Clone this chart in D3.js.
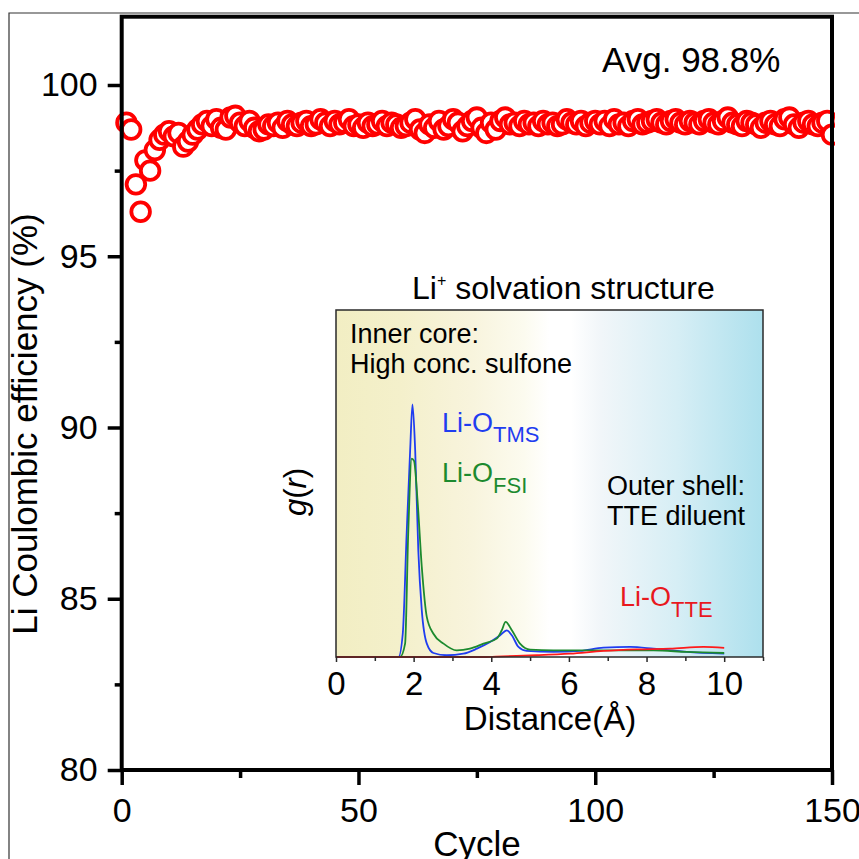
<!DOCTYPE html>
<html>
<head>
<meta charset="utf-8">
<script src="https://cdn.jsdelivr.net/npm/d3@7"></script>
<style>
  html, body { margin: 0; padding: 0; background: #fff; }
  svg { display: block; }
  text { font-family: "Liberation Sans", Arial, Helvetica, sans-serif; }
</style>
</head>
<body>
<svg id="chart" width="859" height="859"></svg>
<script>
// ---------- Main chart data ----------
const cycles = d3.range(1, 151);
const efficiency = [
  98.9, 98.7, 97.1, 96.3, 97.8, 97.5, 98.1, 98.4, 98.55, 98.65,
  98.5, 98.6, 98.2, 98.35, 98.55, 98.7, 98.85, 98.95, 98.8, 99.0,
  98.75, 98.7, 99.05, 99.1, 98.9, 98.8, 98.95, 98.75, 98.65, 98.7,
  98.85, 98.8, 98.9, 98.75, 98.95, 98.85, 98.8, 98.9, 98.95, 98.8,
  98.85, 99.0, 98.9, 98.8, 98.95, 98.85, 98.9, 99.0, 98.8, 98.85,
  98.75, 98.9, 98.8, 98.85, 98.95, 98.8, 98.9, 98.85, 98.75, 98.8,
  98.9, 99.0, 98.7, 98.6, 98.85, 98.75, 98.95, 98.7, 98.8, 99.0,
  98.9, 98.65, 98.8, 98.95, 99.05, 98.75, 98.6, 98.9, 98.7, 98.95,
  99.05, 98.85, 98.9, 98.8, 98.95, 98.85, 98.9, 98.8, 98.95, 98.85,
  98.9, 98.8, 98.85, 99.0, 98.9, 98.85, 98.95, 98.8, 98.9, 98.95,
  98.85, 98.95, 98.8, 99.0, 98.85, 98.9, 98.8, 98.95, 99.0, 98.85,
  98.9, 98.95, 99.0, 98.9, 98.85, 98.95, 99.0, 98.9, 98.85, 98.95,
  98.9, 98.85, 98.95, 99.0, 98.9, 98.85, 98.95, 99.05, 98.9, 98.85,
  98.8, 98.95, 98.9, 98.85, 98.75, 98.9, 98.95, 98.85, 98.8, 99.0,
  99.05, 98.85, 98.75, 98.9, 98.95, 98.85, 98.8, 98.9, 98.95, 98.55
];
const xMajorTicks = [0, 50, 100, 150];
const xMinorTicks = [25, 75, 125];
const yMajorTicks = [80, 85, 90, 95, 100];
const yMinorTicks = [82.5, 87.5, 92.5, 97.5];

// ---------- Inset data (g(r)) ----------
const rTMS = [0, 1.0, 1.61, 1.72, 1.82, 1.91, 1.97, 2.04, 2.12, 2.21, 2.34, 2.51, 2.85, 3.28, 3.63, 3.97, 4.23, 4.40, 4.53, 4.70, 4.91, 5.6, 6.29, 6.89, 7.58, 8.18, 9.04, 10.0];
const gTMS = [0, 0, 0, 1.34, 7.1, 11.9, 14.56, 11.9, 6.15, 2.69, 0.77, 0.23, 0.1, 0.19, 0.48, 0.86, 1.25, 1.54, 1.25, 0.58, 0.35, 0.29, 0.35, 0.54, 0.58, 0.48, 0.29, 0.19];
const rFSI = [0, 1.0, 1.65, 1.78, 1.86, 1.95, 2.01, 2.10, 2.21, 2.34, 2.51, 2.77, 3.11, 3.45, 3.80, 4.14, 4.27, 4.37, 4.53, 4.74, 5.0, 5.6, 6.46, 7.32, 8.18, 9.04, 10.0];
const gFSI = [0, 0, 0, 0.77, 7.1, 11.43, 11.3, 9.03, 5.19, 2.3, 1.34, 0.77, 0.38, 0.48, 0.77, 1.06, 1.54, 2.02, 1.54, 0.77, 0.42, 0.38, 0.38, 0.38, 0.38, 0.29, 0.23];
const rTTE = [0, 2.0, 3.8, 4.3, 5.17, 6.03, 6.89, 7.75, 8.6, 9.47, 10.0];
const gTTE = [0, 0, 0, 0.04, 0.1, 0.19, 0.35, 0.44, 0.48, 0.58, 0.52];
const insetXMajor = [0, 2, 4, 6, 8, 10];
const insetXMinor = [1, 3, 5, 7, 9, 11];

const svg = d3.select("#chart");

// Outer thin frame
svg.append("path")
  .attr("d", "M9,870 L9,13 L870,13")
  .attr("fill", "none").attr("stroke", "#333").attr("stroke-width", 1.2);

// ---------- Main scales ----------
const L = 121.7, R = 832, T = 16.7, B = 770;
const x = d3.scaleLinear().domain([0, 150]).range([L, R]);
const y = d3.scaleLinear().domain([80, 102]).range([B, 85 - 2 * 34.25]);
// y(100) should be ~85
y.range([B, B - 22 * 34.25]);

// clip
svg.append("clipPath").attr("id", "mainclip")
  .append("rect").attr("x", 0).attr("y", T).attr("width", R + 3).attr("height", B - T);

// Data circles
svg.append("g").attr("clip-path", "url(#mainclip)")
  .selectAll("circle").data(cycles.map((c, i) => [c, efficiency[i]]))
  .join("circle")
  .attr("cx", d => x(d[0]))
  .attr("cy", d => y(d[1]))
  .attr("r", 9.3)
  .attr("fill", "#fff")
  .attr("stroke", "#ff0000")
  .attr("stroke-width", 3.8);

// Axes
const fontMain = 34;
function styleAxis(g) {
  g.select(".domain").remove();
  g.selectAll("line").attr("stroke", "#000").attr("stroke-width", 3.5);
  g.selectAll("text").attr("fill", "#000").style("font-size", fontMain + "px")
    .style("font-family", '"Liberation Sans", Arial, sans-serif');
}
svg.append("g").attr("transform", `translate(${L},0)`)
  .call(d3.axisLeft(y).tickValues(yMajorTicks).tickSize(14).tickPadding(10).tickFormat(d3.format("d")))
  .call(styleAxis);
svg.append("g").attr("transform", `translate(${L},0)`)
  .call(d3.axisLeft(y).tickValues(yMinorTicks).tickSize(7).tickFormat(""))
  .call(styleAxis);
svg.append("g").attr("transform", `translate(0,${B})`)
  .call(d3.axisBottom(x).tickValues(xMajorTicks).tickSize(15).tickPadding(13).tickFormat(d3.format("d")))
  .call(styleAxis);
svg.append("g").attr("transform", `translate(0,${B})`)
  .call(d3.axisBottom(x).tickValues(xMinorTicks).tickSize(8).tickFormat(""))
  .call(styleAxis);

// Frame
svg.append("rect")
  .attr("x", L).attr("y", T).attr("width", R - L).attr("height", B - T)
  .attr("fill", "none").attr("stroke", "#000").attr("stroke-width", 4);

// Axis titles
svg.append("text").attr("x", 477).attr("y", 856).attr("text-anchor", "middle")
  .style("font-size", "35px").text("Cycle");
svg.append("text").attr("transform", "translate(37,424) rotate(-90)")
  .attr("text-anchor", "middle").style("font-size", "35px")
  .text("Li Coulombic efficiency (%)");
svg.append("text").attr("x", 602).attr("y", 72)
  .style("font-size", "35px").text("Avg. 98.8%");

// ---------- Inset ----------
const iL = 336, iR = 763, iT = 310, iB = 657;
const xi = d3.scaleLinear().domain([0, 11]).range([iL, iR]);
const yi = d3.scaleLinear().domain([0, 20]).range([iB, iT]);

const defs = svg.append("defs");
const grad = defs.append("linearGradient").attr("id", "bg")
  .attr("x1", "0%").attr("x2", "100%").attr("y1", "0%").attr("y2", "0%");
[["0%", "#f2eec3"], ["15%", "#f4f0cb"], ["32%", "#f8f4dd"], ["44%", "#fcfbef"],
 ["50%", "#ffffff"], ["55%", "#ffffff"], ["62%", "#f1f6f9"], ["80%", "#d6eef5"],
 ["100%", "#ade0ed"]].forEach(s => grad.append("stop").attr("offset", s[0]).attr("stop-color", s[1]));

svg.append("rect").attr("x", iL).attr("y", iT).attr("width", iR - iL).attr("height", iB - iT)
  .attr("fill", "url(#bg)");

const line = d3.line().x(d => xi(d[0])).y(d => yi(d[1])).curve(d3.curveMonotoneX);
const series = [
  { r: rTMS, g: gTMS, color: "#1f3df0" },
  { r: rFSI, g: gFSI, color: "#1c8a2e" },
  { r: rTTE, g: gTTE, color: "#ff1a1a" }
];
series.forEach(s => {
  svg.append("path").datum(s.r.map((r, i) => [r, s.g[i]]))
    .attr("d", line).attr("fill", "none").attr("stroke", s.color).attr("stroke-width", 1.8);
});

svg.append("rect").attr("x", iL).attr("y", iT).attr("width", iR - iL).attr("height", iB - iT)
  .attr("fill", "none").attr("stroke", "#2a2a2a").attr("stroke-width", 1.5);

function styleInsetAxis(g) {
  g.select(".domain").remove();
  g.selectAll("line").attr("stroke", "#2a2a2a").attr("stroke-width", 1.5);
  g.selectAll("text").attr("fill", "#000").style("font-size", "33px")
    .style("font-family", '"Liberation Sans", Arial, sans-serif');
}
svg.append("g").attr("transform", `translate(0,${iB})`)
  .call(d3.axisBottom(xi).tickValues(insetXMajor).tickSize(5).tickPadding(10).tickFormat(d3.format("d")))
  .call(styleInsetAxis);
svg.append("g").attr("transform", `translate(0,${iB})`)
  .call(d3.axisBottom(xi).tickValues(insetXMinor).tickSize(4).tickFormat(""))
  .call(styleInsetAxis);

svg.append("text").attr("x", 550).attr("y", 730).attr("text-anchor", "middle")
  .style("font-size", "33px").text("Distance(Å)");

const gl = svg.append("text").attr("transform", "translate(306,492) rotate(-90)")
  .attr("text-anchor", "middle").style("font-size", "31px");
gl.append("tspan").style("font-style", "italic").text("g");
gl.append("tspan").text("(");
gl.append("tspan").style("font-style", "italic").text("r");
gl.append("tspan").text(")");

const tt = svg.append("text").attr("x", 412).attr("y", 299).style("font-size", "32px");
tt.append("tspan").text("Li");
tt.append("tspan").attr("dy", -13).style("font-size", "16px").text("+");
tt.append("tspan").attr("dy", 13).text(" solvation structure");

svg.append("text").attr("x", 350).attr("y", 343).style("font-size", "27px").text("Inner core:");
svg.append("text").attr("x", 350).attr("y", 373).style("font-size", "27px").text("High conc. sulfone");
svg.append("text").attr("x", 607).attr("y", 495).style("font-size", "27px").text("Outer shell:");
svg.append("text").attr("x", 607).attr("y", 525).style("font-size", "27px").text("TTE diluent");

function subLabel(xp, yp, main, sub, color, shift) {
  const t = svg.append("text").attr("x", xp).attr("y", yp).attr("fill", color).style("font-size", "27px");
  t.append("tspan").text(main);
  t.append("tspan").attr("dy", shift).style("font-size", "22px").text(sub);
}
subLabel(442, 432, "Li-O", "TMS", "#1f3df0", 10);
subLabel(442, 482, "Li-O", "FSI", "#1c8a2e", 11);
subLabel(620, 606, "Li-O", "TTE", "#e8191e", 11);
</script>
</body>
</html>
